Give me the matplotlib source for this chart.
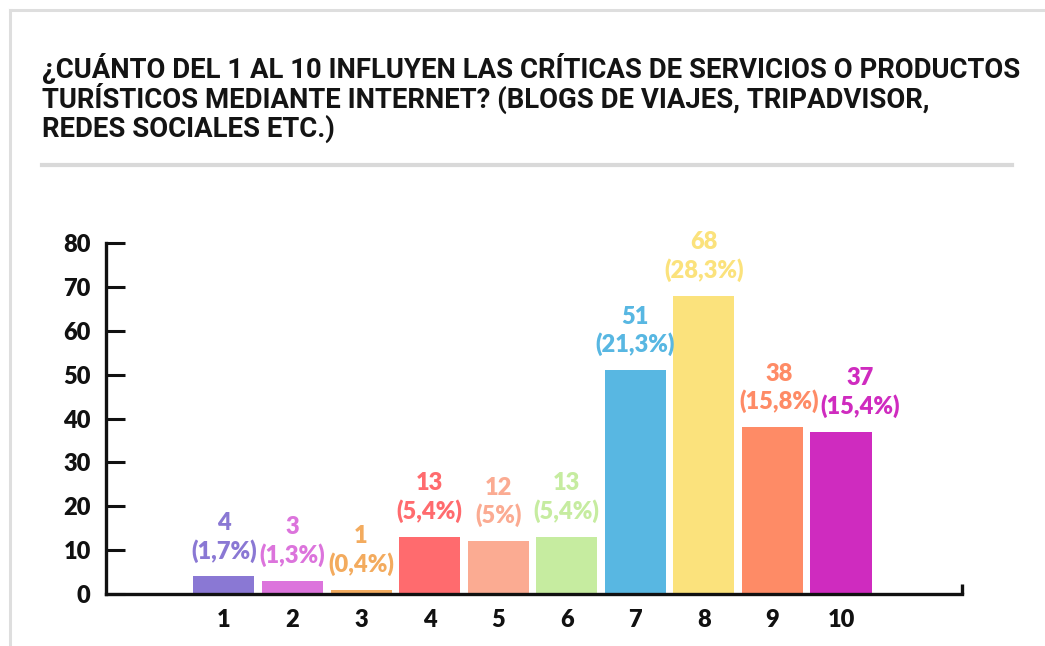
import matplotlib.pyplot as plt
from matplotlib.lines import Line2D

# data
scores = ['1', '2', '3', '4', '5', '6', '7', '8', '9', '10']
counts = [4, 3, 1, 13, 12, 13, 51, 68, 38, 37]
percents = ['1,7%', '1,3%', '0,4%', '5,4%', '5%', '5,4%', '21,3%', '28,3%', '15,8%', '15,4%']
colors = ['#8a78d4', '#dc74dc', '#f3ab5e', '#ff6b6e', '#fbab92', '#c6eca0',
          '#58b7e2', '#fbe27c', '#fe8b66', '#cf2bbf']
label_dx = [0, 0, 0, 0, 0, 0, 0, 0, 0.1, 0.28]

title_lines = ['¿CUÁNTO DEL 1 AL 10 INFLUYEN LAS CRÍTICAS DE SERVICIOS O PRODUCTOS',
               'TURÍSTICOS MEDIANTE INTERNET? (BLOGS DE VIAJES, TRIPADVISOR,',
               'REDES SOCIALES ETC.)']
title_fam = ['Roboto', 'DejaVu Sans']

W, H = 1045, 646
fig = plt.figure(figsize=(W / 100, H / 100), dpi=100)
fig.patch.set_facecolor('white')

# card border and separator
fig.add_artist(Line2D([10 / W, 10 / W], [0, 1 - 10 / H], color='#dedede', lw=2.2))
fig.add_artist(Line2D([10 / W, 1], [1 - 10 / H, 1 - 10 / H], color='#dedede', lw=2.2))
fig.add_artist(Line2D([42 / W, 1012 / W], [1 - 165 / H, 1 - 165 / H], color='#d9d9d9', lw=3))

# fit the first title line to the width seen in the picture
r = fig.canvas.get_renderer()
probe = fig.text(0, 0, title_lines[0], fontsize=20, fontweight='bold', family=title_fam)
tsize = 20 * 976 / probe.get_window_extent(r).width
probe.remove()
for line, base in zip(title_lines, [78, 107.5, 137]):
    fig.text(42 / W, 1 - base / H, line, ha='left', va='baseline', fontsize=tsize,
             fontweight='bold', family=title_fam, color='#141414')

ax = fig.add_axes([106 / W, 52 / H, (962 - 106) / W, (594 - 243) / H])
x = list(range(1, len(counts) + 1))
ax.bar(x, counts, width=0.89, color=colors, zorder=1)
ax.set_xlim(-0.721, 11.765)
ax.set_ylim(0, 80)

for s in ['top', 'right']:
    ax.spines[s].set_visible(False)
for s in ['left', 'bottom']:
    ax.spines[s].set_linewidth(2.4)
    ax.spines[s].set_color('#111111')
    ax.spines[s].set_zorder(3)

fam = ['Lato', 'DejaVu Sans']
ax.set_yticks(range(0, 81, 10))
ax.tick_params(axis='y', direction='in', length=14, width=2.2, color='#111111',
               pad=11, labelsize=17)
ax.set_xticks(x)
ax.set_xticklabels(scores)
ax.tick_params(axis='x', length=0, pad=11, labelsize=17)
for t in ax.get_yticklabels() + ax.get_xticklabels():
    t.set_fontfamily(fam)
    t.set_fontweight('heavy')
    t.set_color('#111111')

# small end tick on the right of the x axis
ax.plot([1, 1], [0, 0.028], transform=ax.transAxes, color='#111111', lw=2.4,
        clip_on=False, solid_capstyle='butt')

for xi, c, p, col, dx in zip(x, counts, percents, colors, label_dx):
    ax.annotate(f'{c}\n({p})', (xi + dx, c), xytext=(0, 10), textcoords='offset points',
                ha='center', va='bottom', fontsize=17, color=col, family=fam,
                fontweight='heavy', linespacing=1.25)

fig.savefig('out.png', dpi=100)
